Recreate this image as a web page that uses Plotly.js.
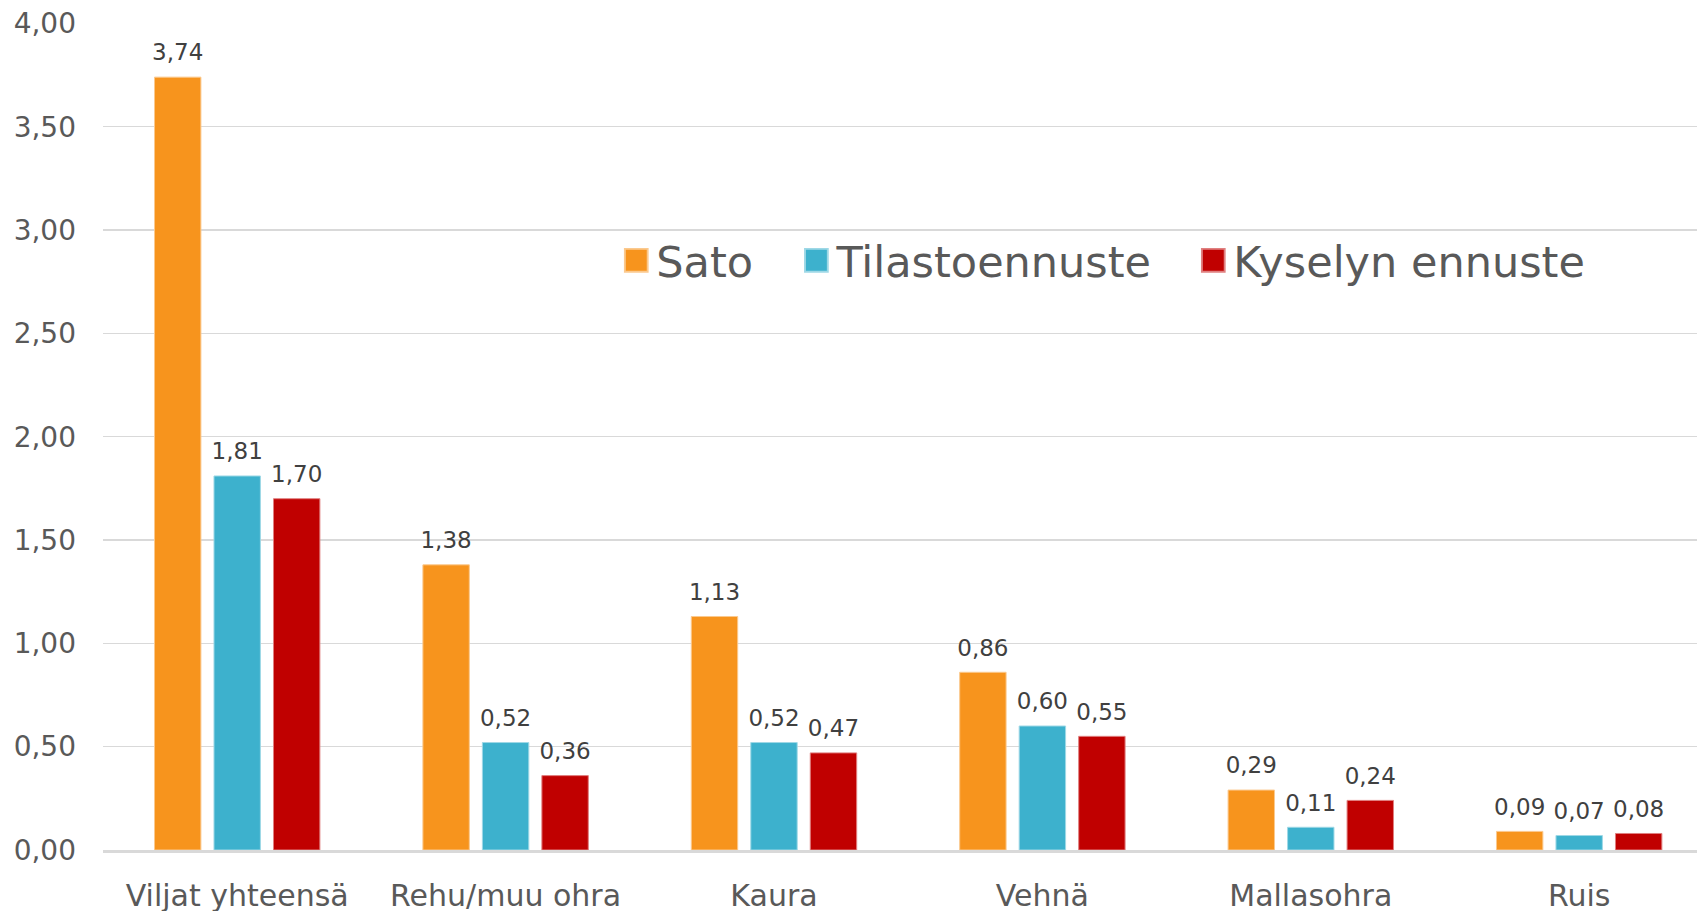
<!DOCTYPE html>
<html>
<head>
<meta charset="utf-8">
<script src="https://cdn.plot.ly/plotly-3.0.1.min.js"></script>
<style>
html,body{margin:0;padding:0;background:#fff;}
#chart{width:1697px;height:911px;}
</style>
</head>
<body>
<div id="chart"></div>
<script>
const categories = ["Viljat yhteensä", "Rehu/muu ohra", "Kaura", "Vehnä", "Mallasohra", "Ruis"];
const seriesNames = ["Sato", "Tilastoennuste", "Kyselyn ennuste"];
const sato = [3.74, 1.38, 1.13, 0.86, 0.29, 0.09];
const tilastoennuste = [1.81, 0.52, 0.52, 0.60, 0.11, 0.07];
const kyselynEnnuste = [1.70, 0.36, 0.47, 0.55, 0.24, 0.08];
const yTickValues = [0, 0.5, 1, 1.5, 2, 2.5, 3, 3.5, 4];

const colors = ["#F7941D", "#3DB1CD", "#C00000"];
const lineColors = ["#FBC98E", "#9ED8E6", "#E08080"];
const legendIds = ["legend", "legend2", "legend3"];
const groups = ["g1", "g2", "g3"];
const seriesValues = [sato, tilastoennuste, kyselynEnnuste];

const FONT = "DejaVu Sans, Verdana, sans-serif";

const barTraces = seriesValues.map((vals, i) => ({
  type: "bar",
  name: seriesNames[i],
  x: categories,
  y: vals,
  legend: legendIds[i],
  offsetgroup: groups[i],
  marker: {color: colors[i], line: {color: lineColors[i], width: 1}},
  hoverinfo: "x+y+name"
}));

const labelTraces = seriesValues.map((vals, i) => ({
  type: "scatter",
  mode: "markers+text",
  x: categories,
  y: vals,
  offsetgroup: groups[i],
  showlegend: false,
  marker: {size: 16, opacity: 0, color: colors[i]},
  texttemplate: "%{y:.2f}",
  textposition: "top center",
  textfont: {family: FONT, size: 23, color: "#404040"},
  cliponaxis: false,
  hoverinfo: "skip"
}));

const legendBase = {
  orientation: "h",
  yanchor: "middle",
  y: 0.713,
  xanchor: "left",
  bgcolor: "rgba(0,0,0,0)",
  font: {family: FONT, size: 43, color: "#595959"}
};

const layout = {
  width: 1697,
  height: 911,
  paper_bgcolor: "#ffffff",
  plot_bgcolor: "#ffffff",
  separators: ", ",
  margin: {l: 103, r: 0, t: 23, b: 61, pad: 0},
  barmode: "group",
  bargap: 0.335,
  bargroupgap: 0.22,
  scattermode: "group",
  scattergap: 0.335,
  font: {family: FONT, color: "#595959"},
  xaxis: {
    type: "category",
    range: [-0.5, 5.439],
    showgrid: false,
    showline: true,
    linecolor: "#D9D9D9",
    linewidth: 2.5,
    ticks: "",
    ticklabelstandoff: 17,
    tickfont: {family: FONT, size: 30, color: "#595959"},
    fixedrange: true
  },
  yaxis: {
    range: [0, 4.002],
    tickvals: yTickValues,
    tickformat: ".2f",
    showgrid: true,
    gridcolor: "#D9D9D9",
    gridwidth: 1.5,
    zeroline: false,
    showline: false,
    ticks: "",
    ticklabelstandoff: 26,
    tickfont: {family: FONT, size: 28, color: "#595959"},
    fixedrange: true
  },
  legend: Object.assign({}, legendBase, {x: 0.322}),
  legend2: Object.assign({}, legendBase, {x: 0.435}),
  legend3: Object.assign({}, legendBase, {x: 0.684}),
  showlegend: true
};

Plotly.newPlot("chart", barTraces.concat(labelTraces), layout, {displayModeBar: false, staticPlot: true}).then(gd => {
  gd.querySelectorAll(".legendpoints path").forEach(p => {
    const t = p.getAttribute("transform") || "";
    p.setAttribute("transform", t + " scale(1.9)");
  });
});
</script>
</body>
</html>
